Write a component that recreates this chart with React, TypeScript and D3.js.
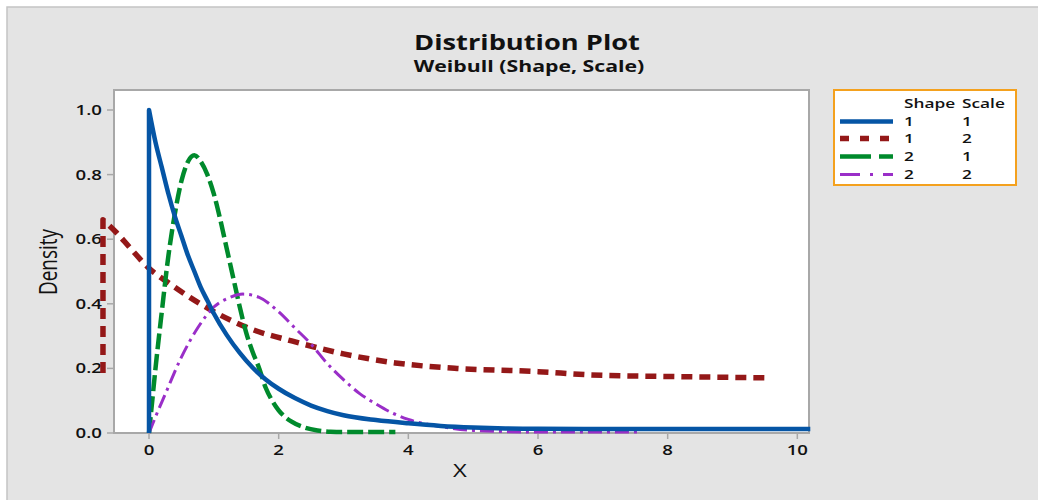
import React from "react";
import * as d3 from "d3";

// ---- data ----
const xTicks = [0, 2, 4, 6, 8, 10];
const yTicks = [0, 0.2, 0.4, 0.6, 0.8, 1.0];

const legendShape = ["1", "1", "2", "2"];
const legendScale = ["1", "2", "1", "2"];

const blueX = [0, 0, 0.1, 0.2, 0.3, 0.4, 0.5, 0.6, 0.7, 0.8, 0.9, 1.0, 1.2, 1.4, 1.6, 1.8, 2.0, 2.25, 2.5, 2.75, 3.0, 3.5, 4.0, 4.5, 5.0, 5.5, 6.0, 7.0, 8.0, 9.0, 10.2];
const blueY = [0, 1.0, 0.9, 0.82, 0.74, 0.67, 0.61, 0.55, 0.5, 0.45, 0.41, 0.37, 0.303, 0.248, 0.202, 0.166, 0.137, 0.108, 0.085, 0.068, 0.055, 0.04, 0.03, 0.022, 0.017, 0.014, 0.013, 0.012, 0.012, 0.012, 0.012];

const redX = [-0.71, -0.71, -0.5, -0.3, 0, 0.3, 0.63, 1.1, 1.6, 2.2, 3.0, 3.8, 4.75, 6.0, 6.8, 8.0, 9.5];
const redY = [0.186, 0.66, 0.62, 0.575, 0.51, 0.465, 0.42, 0.365, 0.32, 0.285, 0.245, 0.217, 0.2, 0.19, 0.18, 0.175, 0.171];

const greenX = [0, 0.05, 0.1, 0.2, 0.3, 0.4, 0.5, 0.6, 0.7, 0.8, 0.9, 1.0, 1.1, 1.2, 1.3, 1.4, 1.5, 1.6, 1.7, 1.8, 1.9, 2.0, 2.2, 2.4, 2.6, 2.8, 3.0, 3.4, 3.8];
const greenY = [0, 0.1, 0.2, 0.38, 0.55, 0.68, 0.78, 0.84, 0.86, 0.84, 0.8, 0.74, 0.66, 0.57, 0.48, 0.39, 0.31, 0.25, 0.2, 0.14, 0.1, 0.07, 0.035, 0.017, 0.008, 0.004, 0.003, 0.003, 0.003];

const purpleX = [0, 0.1, 0.25, 0.5, 0.75, 1.0, 1.25, 1.45, 1.7, 2.0, 2.25, 2.5, 2.75, 3.0, 3.25, 3.5, 3.75, 4.0, 4.5, 5.0, 6.0, 7.55];
const purpleY = [0, 0.05, 0.12, 0.235, 0.325, 0.39, 0.42, 0.43, 0.42, 0.375, 0.325, 0.275, 0.215, 0.165, 0.122, 0.09, 0.062, 0.042, 0.02, 0.008, 0.003, 0.003];

const series = [
  { xs: redX, ys: redY, color: "#941818", width: 5.5, dash: "11,7", vstart: true },
  { xs: greenX, ys: greenY, color: "#008a2c", width: 4.5, dash: "16,5", vstart: false },
  { xs: purpleX, ys: purpleY, color: "#9a2ec8", width: 3, dash: "14,5,3,5", vstart: false },
  { xs: blueX, ys: blueY, color: "#0555a5", width: 4.5, dash: "", vstart: true },
];

const FONT = "'Open Sans', 'Noto Sans', sans-serif";
const SX = 1.33; // the reference is stretched horizontally

function T(props: {
  x: number;
  y: number;
  size: number;
  weight?: number;
  anchor?: string;
  rotate?: number;
  children: React.ReactNode;
}) {
  const { x, y, size, weight = 400, anchor = "start", rotate = 0, children } = props;
  return (
    <g transform={`translate(${x},${y}) scale(${SX},1)${rotate ? ` rotate(${rotate})` : ""}`}>
      <text x={0} y={0} textAnchor={anchor} fontSize={size} fontWeight={weight} fill="#111">
        {children}
      </text>
    </g>
  );
}

export default function App() {
  const W = 1038;
  const H = 500;
  const plot = { left: 114, right: 809, top: 90, bottom: 433 };

  const x = d3.scaleLinear().domain([-0.54, 10.18]).range([plot.left, plot.right]);
  const y = d3.scaleLinear().domain([0, 1.0]).range([433, 110]);

  const curve = d3
    .line<[number, number]>()
    .x((d) => x(d[0]))
    .y((d) => y(d[1]))
    .curve(d3.curveMonotoneX);

  const pathFor = (s: (typeof series)[number]) => {
    const pts = s.xs.map((v, j) => [v, s.ys[j]] as [number, number]);
    if (s.vstart) {
      const head = `M${x(pts[0][0])},${y(pts[0][1])}`;
      const rest = (curve(pts.slice(1)) || "").replace(/^M/, "L");
      return head + rest;
    }
    return curve(pts) || "";
  };

  const legendX = 834;
  const legendY = 90;
  const rowY = [126, 143, 161, 179];
  const legendDash = [undefined, "9,11", "31,8", "20,10,3,10"];

  return (
    <svg
      width={W}
      height={H}
      style={{ position: "absolute", left: 0, top: 0, display: "block" }}
      fontFamily={FONT}
    >
      <rect x={0} y={0} width={W} height={H} fill="#ffffff" />
      <rect x={7} y={7} width={W + 10} height={H + 10} fill="#e4e4e4" stroke="#c4c4c4" strokeWidth={1.5} />

      {/* titles */}
      <T x={527} y={50} size={20.5} weight={700} anchor="middle">
        Distribution Plot
      </T>
      <T x={529} y={72} size={16} weight={700} anchor="middle">
        Weibull (Shape, Scale)
      </T>

      {/* plot area */}
      <rect
        x={plot.left}
        y={plot.top}
        width={plot.right - plot.left}
        height={plot.bottom - plot.top}
        fill="#ffffff"
        stroke="#a8a8a8"
        strokeWidth={2}
      />

      {/* y ticks */}
      {yTicks.map((t) => (
        <g key={"y" + t}>
          <line x1={plot.left - 7} x2={plot.left} y1={y(t)} y2={y(t)} stroke="#a8a8a8" strokeWidth={1.5} />
          <T x={plot.left - 12} y={y(t) + 5} size={14} weight={600} anchor="end">
            {t.toFixed(1)}
          </T>
        </g>
      ))}

      {/* x ticks */}
      {xTicks.map((t) => (
        <g key={"x" + t}>
          <line x1={x(t)} x2={x(t)} y1={plot.bottom} y2={plot.bottom + 6} stroke="#a8a8a8" strokeWidth={1.5} />
          <T x={x(t)} y={455} size={14} weight={600} anchor="middle">
            {t}
          </T>
        </g>
      ))}

      {/* axis labels */}
      <T x={460} y={477} size={18} anchor="middle">
        X
      </T>
      <T x={57} y={262} size={19} anchor="middle" rotate={-90}>
        Density
      </T>

      {/* curves */}
      {series.map((s, i) => (
        <path
          key={"s" + i}
          d={pathFor(s)}
          fill="none"
          stroke={s.color}
          strokeWidth={s.width}
          strokeDasharray={s.dash || undefined}
          strokeLinejoin="round"
        />
      ))}

      {/* legend */}
      <rect x={legendX} y={legendY} width={182} height={95} fill="#ffffff" stroke="#f4a11e" strokeWidth={2} />
      <T x={904} y={108} size={13} weight={600}>
        Shape
      </T>
      <T x={962} y={108} size={13} weight={600}>
        Scale
      </T>
      {[series[3], series[0], series[1], series[2]].map((s, i) => (
        <g key={"lg" + i}>
          <line
            x1={840}
            x2={893}
            y1={rowY[i] - 4.5}
            y2={rowY[i] - 4.5}
            stroke={s.color}
            strokeWidth={s.width}
            strokeDasharray={legendDash[i]}
          />
          <T x={904} y={rowY[i]} size={13} weight={600}>
            {legendShape[i]}
          </T>
          <T x={962} y={rowY[i]} size={13} weight={600}>
            {legendScale[i]}
          </T>
        </g>
      ))}
    </svg>
  );
}
